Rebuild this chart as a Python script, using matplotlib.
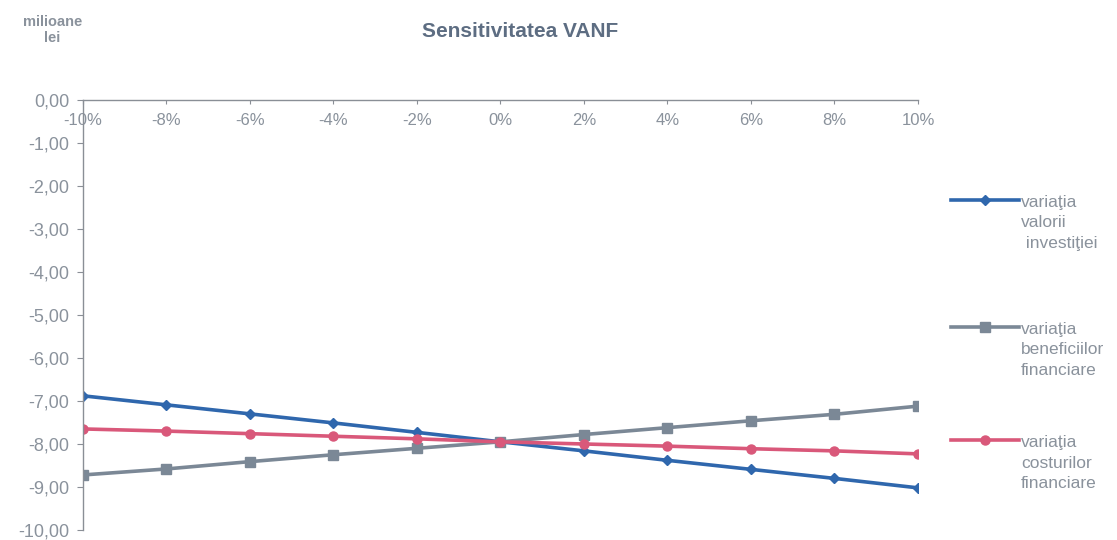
import matplotlib
matplotlib.use("Agg")
import matplotlib.pyplot as plt
from matplotlib.lines import Line2D
from matplotlib.ticker import FuncFormatter

plt.rcParams['font.family'] = ['Liberation Sans', 'DejaVu Sans']

# sensitivity steps (%)
variatii = [-10, -8, -6, -4, -2, 0, 2, 4, 6, 8, 10]
x_labels = ['-10%', '-8%', '-6%', '-4%', '-2%', '0%', '2%', '4%', '6%', '8%', '10%']

# VANF, milioane lei
valoare_investitie = [-6.88, -7.09, -7.30, -7.51, -7.73, -7.95, -8.16, -8.38, -8.59, -8.80, -9.02]
beneficii_financiare = [-8.72, -8.58, -8.41, -8.25, -8.10, -7.95, -7.78, -7.62, -7.46, -7.31, -7.12]
costuri_financiare = [-7.65, -7.70, -7.76, -7.82, -7.88, -7.95, -8.00, -8.05, -8.11, -8.16, -8.23]

series_labels = ['variaţia\nvalorii\n investiţiei',
                 'variaţia\nbeneficiilor\nfinanciare',
                 'variaţia\ncosturilor\nfinanciare']

BLUE = '#2f67ad'
GRAY = '#7b8896'
RED = '#d9587a'
TXT = '#8a929c'
TITLE = '#5d6d82'

fig = plt.figure(figsize=(11.17, 5.4), dpi=100)
ax = fig.add_axes([0.0743, 0.0185, 0.7475, 0.7965])

styles = [
    (valoare_investitie, BLUE, 'D', 5.5),
    (beneficii_financiare, GRAY, 's', 6.5),
    (costuri_financiare, RED, 'o', 6.5),
]
for vals, col, mk, ms in styles:
    ax.plot(variatii, vals, color=col, linewidth=2.6, marker=mk, markersize=ms,
            markerfacecolor=col, markeredgecolor=col)

ax.set_xlim(-10, 10)
ax.set_ylim(-10, 0)
ax.set_yticks(range(-10, 1))
ax.yaxis.set_major_formatter(FuncFormatter(lambda v, p: f'{v:.2f}'.replace('.', ',')))

ax.spines['right'].set_visible(False)
ax.spines['bottom'].set_visible(False)
ax.spines['left'].set_color('#8a8f96')
ax.spines['top'].set_color('#8a8f96')
ax.spines['left'].set_linewidth(1.0)
ax.spines['top'].set_linewidth(1.0)

ax.xaxis.tick_top()
ax.set_xticks(variatii)
ax.set_xticklabels(x_labels)
ax.tick_params(axis='x', direction='in', length=3, color='#8a8f96',
               labelsize=12, labelcolor=TXT, pad=-20)
ax.tick_params(axis='y', direction='out', length=4, color='#8a8f96',
               labelsize=13, labelcolor=TXT, pad=6)

fig.text(0.466, 0.942, 'Sensitivitatea VANF', ha='center', va='center',
         fontsize=15, fontweight='bold', color=TITLE)
fig.text(0.047, 0.945, 'milioane\nlei', ha='center', va='center',
         fontsize=10.5, fontweight='bold', color=TXT, linespacing=1.15)

# legend drawn by hand so that each handle lines up with the first text line
legend_y = [0.630, 0.395, 0.185]
for (vals, col, mk, ms), lab, ly in zip(styles, series_labels, legend_y):
    fig.add_artist(Line2D([0.851, 0.912], [ly, ly], color=col, linewidth=2.6,
                          transform=fig.transFigure))
    fig.add_artist(Line2D([0.8815], [ly], color=col, marker=mk, markersize=ms,
                          transform=fig.transFigure))
    fig.text(0.914, ly + 0.009, lab, ha='left', va='top', fontsize=12.5,
             color=TXT, linespacing=1.45)

fig.savefig('out.png', dpi=100)
